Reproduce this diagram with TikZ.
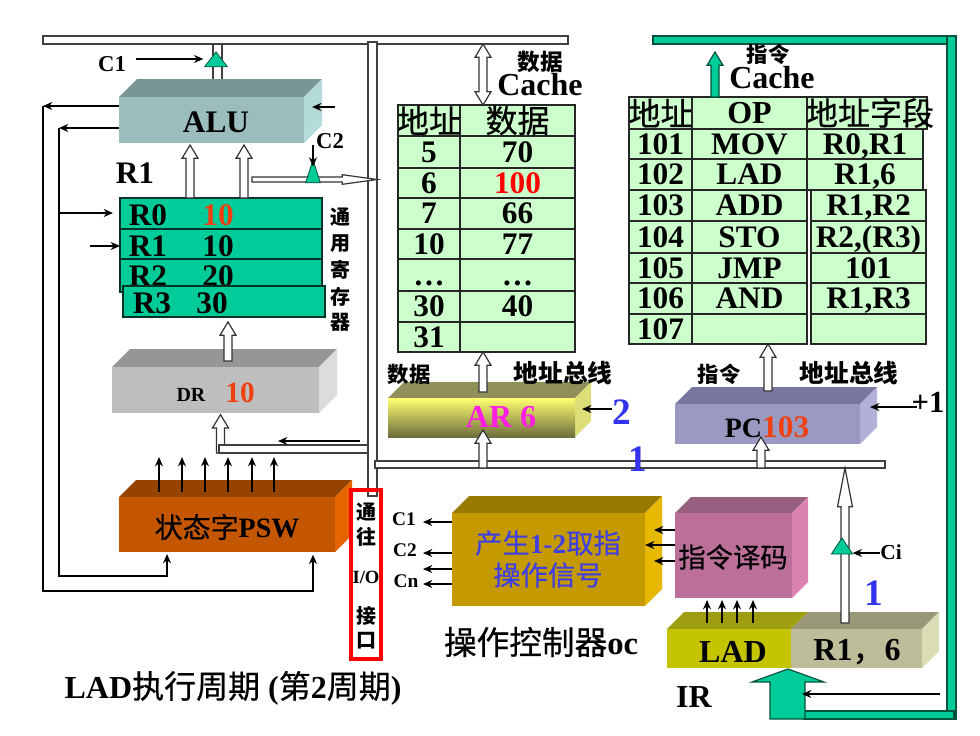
\documentclass[tikz,border=0pt]{standalone}
\usepackage{fontspec}
\setmainfont{Liberation Serif}
\newfontfamily\cjk{Noto Sans CJK SC}
\newfontfamily\cjkmid[FakeBold=0.5]{Noto Sans CJK SC}
\newcommand{\zh}[1]{{\cjkmid\mdseries #1}}
\newcommand{\zhb}[1]{{\cjk #1}}
\usetikzlibrary{arrows.meta, calc, fit, shapes.geometric}
\definecolor{regreen}{RGB}{0,204,153}
\definecolor{celgreen}{RGB}{204,255,204}
\definecolor{hotnum}{RGB}{240,64,16}
\definecolor{bluenum}{RGB}{51,51,238}
\definecolor{opblue}{RGB}{64,64,224}
\definecolor{arpink}{RGB}{255,30,225}
\definecolor{alufront}{RGB}{155,189,189}
\definecolor{alutop}{RGB}{122,149,149}
\definecolor{aluside}{RGB}{181,218,218}
\definecolor{drfront}{RGB}{190,190,190}
\definecolor{drtop}{RGB}{150,150,150}
\definecolor{drside}{RGB}{220,220,220}
\definecolor{pswfront}{RGB}{196,86,0}
\definecolor{pswtop}{RGB}{150,66,0}
\definecolor{pswside}{RGB}{228,100,0}
\definecolor{arfront}{RGB}{200,200,110}
\definecolor{artop}{RGB}{143,143,90}
\definecolor{arside}{RGB}{222,222,120}
\definecolor{pcfront}{RGB}{153,153,194}
\definecolor{pctop}{RGB}{119,119,160}
\definecolor{pcside}{RGB}{176,176,216}
\definecolor{decfront}{RGB}{188,112,153}
\definecolor{dectop}{RGB}{152,96,128}
\definecolor{decside}{RGB}{219,131,174}
\definecolor{opcfront}{RGB}{196,154,0}
\definecolor{opctop}{RGB}{153,122,0}
\definecolor{opcside}{RGB}{230,184,0}
\definecolor{ladfront}{RGB}{196,196,0}
\definecolor{ladtop}{RGB}{158,158,16}
\definecolor{ladside}{RGB}{196,196,0}
\definecolor{rsixfront}{RGB}{189,189,154}
\definecolor{rsixtop}{RGB}{153,153,122}
\definecolor{rsixside}{RGB}{220,220,180}
\def\arrshaft{3pt}
\def\arrhalf{6pt}
\def\arrhead{10pt}
\tikzset{
  wire/.style={line width=0.9pt, black},
  lbl/.style={font=\bfseries\fontsize{#1}{#1}\selectfont, inner sep=0pt, outer sep=0pt},
  celltext/.style={lbl=23.5, text height=15pt, text depth=0pt},
  cellbox/.style={draw=black!85, fill=celgreen, line width=0.8pt, inner sep=0pt, outer sep=0pt},
  regbox/.style={draw=black!75!regreen, fill=regreen, line width=0.9pt, inner sep=0pt, outer sep=0pt},
  busbar/.style={draw=black!75, fill=white, line width=0.9pt, inner sep=0pt, outer sep=0pt},
  greenbar/.style={draw=black!60!regreen, fill=regreen, line width=0.9pt, inner sep=0pt, outer sep=0pt},
  hollow/.style={draw=black!80, fill=white, line width=0.9pt},
  gatetri/.style={isosceles triangle, isosceles triangle stretches, shape border rotate=90,
    draw=black!60!regreen, fill=regreen, line width=0.6pt, inner sep=0pt, outer sep=0pt, anchor=apex},
  hs/.store in=\arrshaft,
  hw/.store in=\arrhalf,
  hl/.store in=\arrhead
}
% front face as a named node, top and side faces behind it
\newcommand{\prism}[8][]{%
  \fill[#8top] (#3,#4) -- ++(#7,-#7) -- (#5+#7,#4-#7) -- (#5,#4) -- cycle;
  \fill[#8side] (#5,#4) -- ++(#7,-#7) -- (#5+#7,#6-#7) -- (#5,#6) -- cycle;
  \node[fit={(#3,#4)(#5,#6)}, inner sep=0pt, outer sep=0pt, fill=#8front, #1] (#2) {};
}
\newcommand{\blockarrow}[3][]{%
  \begin{scope}[hollow, #1]
    \coordinate (arrS) at #2;
    \coordinate (arrE) at #3;
    \coordinate (arrB) at ($(arrE)!\arrhead!(arrS)$);
    \filldraw ($(arrS)!\arrshaft!90:(arrE)$) -- ($(arrB)!\arrshaft!-90:(arrS)$)
      -- ($(arrB)!\arrhalf!-90:(arrS)$) -- (arrE) -- ($(arrB)!\arrhalf!90:(arrS)$)
      -- ($(arrB)!\arrshaft!90:(arrS)$) -- ($(arrS)!\arrshaft!-90:(arrE)$) -- cycle;
  \end{scope}
}
\newcommand{\blockdouble}[2]{%
  \begin{scope}[hollow]
    \coordinate (arrS) at #1;
    \coordinate (arrE) at #2;
    \coordinate (arrB) at ($(arrE)!\arrhead!(arrS)$);
    \coordinate (arrC) at ($(arrS)!\arrhead!(arrE)$);
    \filldraw (arrS) -- ($(arrC)!\arrhalf!-90:(arrE)$) -- ($(arrC)!\arrshaft!-90:(arrE)$)
      -- ($(arrB)!\arrshaft!90:(arrS)$) -- ($(arrB)!\arrhalf!90:(arrS)$) -- (arrE)
      -- ($(arrB)!\arrhalf!-90:(arrS)$) -- ($(arrB)!\arrshaft!-90:(arrS)$)
      -- ($(arrC)!\arrshaft!90:(arrE)$) -- ($(arrC)!\arrhalf!90:(arrE)$) -- cycle;
  \end{scope}
}
\begin{document}
\begin{tikzpicture}[x=0.75pt, y=-0.75pt, >={Stealth[length=7pt,width=6pt]}]
    \useasboundingbox (0,0) rectangle (980,735);

    % Buses
    \node[busbar, fit={(43,36)(568,44)}] (databus) {};
    \node[busbar, fit={(368,42)(377,496)}] (sidebus) {};
    \node[busbar, fit={(375,461)(885,468)}] (addrbus) {};
    \node[greenbar, fit={(653,36)(956,44)}] (greentop) {};
    \node[greenbar, fit={(947,36)(956,719)}] (greenright) {};
    \node[greenbar, fit={(804,711)(954,719)}] (greenbottom) {};

    % ALU
    \node[busbar, fit={(213,44)(222,82)}] (alubar) {};
    \prism{alu}{119}{97}{304}{143}{18}{alu}
    \node[lbl=23.5] (alutext) at (216,122) {ALU};
    \node[gatetri, minimum width=17pt, minimum height=11pt] (cgateA) at (216,52) {};
    \node[lbl=17] (cA) at (112,64) {C1};
    \draw[wire, ->] ([xshift=7.5pt]cA.east |- 0,59) -- ([xshift=-1pt]cgateA.left corner |- 0,59);
    \coordinate (aluinR) at (335,107);
    \draw[wire, ->] (aluinR) -- (312,107);

    % Registers
    \node[regbox, fit={(120,198)(322,229)}] (rzero) {};
    \node[regbox, fit={(120,229)(322,259)}] (rone) {};
    \node[regbox, fit={(120,259)(322,292)}] (rtwo) {};
    \node[lbl=23.5] (rzeroA) at (148,215) {R0};
    \node[lbl=23.5, text=hotnum] (rzeroB) at (218,215) {10};
    \node[lbl=23.5] (roneA) at (148,246) {R1};
    \node[lbl=23.5] (roneB) at (218,246) {10};
    \node[lbl=23.5] (rtwoA) at (148,276) {R2};
    \node[lbl=23.5] (rtwoB) at (218,276) {20};
    \node[regbox, fit={(123,286)(325,317)}] (rthree) {};
    \node[lbl=23.5] (rthreeA) at (152,303) {R3};
    \node[lbl=23.5] (rthreeB) at (212,303) {30};
    \node[lbl=23.5] (regname) at (135,173) {R1};
    \foreach \ch/\y in {通/217, 用/244, 寄/270, 存/297, 器/322}
      \node[lbl=15] (gpr\y) at (340,\y) {\zhb{\ch}};
    \blockarrow{(190,0 |- rzero.north)}{([yshift=-1.5pt]190,0 |- alu.south)}
    \blockarrow{(244,0 |- rzero.north)}{([yshift=-1.5pt]244,0 |- alu.south)}

    % ALU to the side bus, with C2
    \blockarrow[hs=1.9pt, hw=3.6pt, hl=26pt]{(252,179.5)}{(sidebus.east |- 0,179.5)}
    \node[gatetri, minimum width=11pt, minimum height=17pt] (cgateB) at (313,160) {};
    \node[lbl=17] (cB) at (330,141) {C2};
    \draw[wire, ->] (313,145) -- ([yshift=-5pt]cgateB.apex);

    % DR
    \prism{dr}{112}{367}{319}{413}{18}{dr}
    \node[lbl=15] (drA) at (191,395) {DR};
    \node[lbl=22, text=hotnum] (drB) at (240,393) {10};
    \coordinate (drout) at (228,361);
    \blockarrow{(drout)}{([yshift=-3.7pt]228,0 |- rthree.south)}
    \blockarrow{(220.5,453)}{([yshift=-1.2pt]220.5,0 |- dr.south)}
    \node[busbar, fit={(219,445)(368,453)}] (drbar) {};
    \coordinate (drbarin) at (360,441);
    \draw[wire, ->] (drbarin) -- (278,441);

    % PSW
    \prism{psw}{119}{497}{335}{552}{17}{psw}
    \node[lbl=21] (pswtext) at (227,527) {\zh{状态字}PSW};
    \foreach \x in {159,182,205,228,252,274}
      \draw[wire, ->] ([yshift=3.7pt]\x,0 |- psw.north) -- ++(0,-35);

    % ALU outputs
    \coordinate (cornerA) at (43,106);
    \coordinate (cornerB) at (59,128);
    \draw[wire, ->] (alu.west |- cornerA) -- (cornerA);
    \draw[wire, ->] (alu.west |- cornerB) -- (cornerB);
    \draw[wire, ->] (cornerA) -- (43,591) -- (313,591) -- ([yshift=-2pt]313,0 |- psw.south);
    \draw[wire, ->] (cornerB) -- (59,576) -- (167,576) -- ([yshift=-1.5pt]167,0 |- psw.south);
    \draw[wire, ->] (59,213) -- (113,213);
    \draw[wire, ->] (90,246) -- (rone.west |- 0,246);

    % To the I/O interface
    \node[draw=red, line width=3pt, fit={(351,490)(381,659)}, inner sep=0pt, outer sep=0pt] (iobox) {};
    \node[lbl=15] (ioA) at (366,512) {\zhb{通}};
    \node[lbl=15] (ioB) at (366,537) {\zhb{往}};
    \node[lbl=14] (ioC) at (366,577) {I/O};
    \node[lbl=15] (ioD) at (366,616) {\zhb{接}};
    \node[lbl=15] (ioE) at (366,641) {\zhb{口}};
    \node[lbl=24] (title) at (233,688) {LAD\zh{执行周期} (\zh{第}2\zh{周期})};

    % Data cache
    \node[lbl=17] (dcacheA) at (540,62) {\zhb{数据}};
    \node[lbl=24] (dcacheB) at (540,85) {Cache};
    \foreach \k/\yt/\yb/\addr/\val in {1/136/168/5/70, 2/168/198/6/\textcolor{red}{100},
        3/198/229/7/66, 4/229/259/10/77, 5/259/291/…/…, 6/291/322/30/40, 7/322/352/31/{}}{
      \node[cellbox, fit={(398,\yt)(460,\yb)}] (da\k) {};
      \node[cellbox, fit={(460,\yt)(575,\yb)}] (dv\k) {};
      \node[celltext] (dat\k) at (da\k) {\addr};
      \node[celltext] (dvt\k) at (dv\k) {\val};
    }
    \node[cellbox, fit={(398,105)(460,136)}] (dah) {};
    \node[cellbox, fit={(460,105)(575,136)}] (dvh) {};
    \node[lbl=24] (dahtext) at (dah) {\zh{地址}};
    \node[lbl=24] (dvhtext) at (dvh) {\zh{数据}};
    \blockdouble{(483,0 |- databus.south)}{(483,0 |- dah.north)}

    % AR
    \prism[top color=white!10!yellow!62!white, bottom color=black!45!arfront]{ar}{388}{398}{575}{437}{16}{ar}
    \node[lbl=24, text=arpink] (artext) at (501,417) {AR 6};
    \node[lbl=16] (arA) at (409,374) {\zhb{数据}};
    \node[lbl=18.5] (arB) at (563,373) {\zhb{地址总线}};
    \blockarrow{(483,392)}{(483,0 |- da7.south)}
    \blockarrow{(483,0 |- addrbus.south)}{(483,430)}
    \coordinate (arin) at (612,409);
    \draw[wire, ->] (arin) -- (582,409);
    \node[lbl=28, text=bluenum] (numA) at (622,412) {2};
    \node[lbl=28, text=bluenum] (numB) at (638,459) {1};

    % Instruction cache
    \node[lbl=16] (icacheA) at (768,54) {\zhb{指令}};
    \node[lbl=24] (icacheB) at (772,78) {Cache};
    \foreach \k/\yt/\yb/\xl/\xr/\addr/\op/\fld in {1/129/159/807/923/101/MOV/{R0,R1}, 2/159/190/807/923/102/LAD/{R1,6},
        3/190/221/811/926/103/ADD/{R1,R2}, 4/221/253/811/926/104/STO/{R2,(R3)}, 5/253/283/811/926/105/JMP/101,
        6/283/314/811/926/106/AND/{R1,R3}, 7/314/344/811/926/107/{}/{}}{
      \node[cellbox, fit={(629,\yt)(692,\yb)}] (ia\k) {};
      \node[cellbox, fit={(692,\yt)(807,\yb)}] (io\k) {};
      \node[cellbox, fit={(\xl,\yt)(\xr,\yb)}] (if\k) {};
      \node[celltext] (iat\k) at (ia\k) {\addr};
      \node[celltext] (iot\k) at (io\k) {\op};
      \node[celltext] (ift\k) at (if\k) {\fld};
    }
    \node[cellbox, fit={(629,97)(692,129)}] (iah) {};
    \node[cellbox, fit={(692,97)(807,129)}] (ioh) {};
    \node[cellbox, fit={(807,97)(927,129)}] (ifh) {};
    \node[lbl=24] (iahtext) at (iah) {\zh{地址}};
    \node[lbl=24] (iohtext) at (ioh) {OP};
    \node[lbl=24] (ifhtext) at (870,113) {\zh{地址字段}};
    \blockarrow[fill=regreen, draw=black!60!regreen]{(715,0 |- iah.north)}{(715,52)}

    % PC
    \prism{pc}{675}{404}{860}{444}{17}{pc}
    \node[lbl=21] (pctext) at (767,427) {PC\textcolor{hotnum}{\fontsize{23.5}{24}\selectfont 103}};
    \node[lbl=16] (pcA) at (719,374) {\zhb{指令}};
    \node[lbl=18.5] (pcB) at (849,373) {\zhb{地址总线}};
    \blockarrow{(768,391)}{(768,0 |- ia7.south)}
    \blockarrow{(761,0 |- addrbus.south)}{(761,437)}
    \node[lbl=23] (pcinc) at (928,402) {+1};
    \draw[wire, ->] (917,407) -- (870,407);

    % Operation controller
    \prism{opc}{452}{513}{645}{606}{17}{opc}
    \node[lbl=20.5, text=opblue] (opcA) at (548,543) {\zh{产生}1-2\zh{取指}};
    \node[lbl=20.5, text=opblue] (opcB) at (548,575) {\zh{操作信号}};
    \node[lbl=24.5] (opcname) at (541,642) {\zh{操作控制器}oc};
    \node[lbl=14.5] (sigA) at (404,519) {C1};
    \node[lbl=14.5] (sigB) at (405,550) {C2};
    \node[lbl=14.5] (sigC) at (406,581) {Cn};
    \foreach \y in {522,553,569,584}
      \draw[wire, ->] (opc.west |- 0,\y) -- (423,\y);

    % Instruction decoder
    \prism{dec}{675}{513}{792}{598}{16}{dec}
    \node[lbl=20.5] (dectext) at (733,557) {\zh{指令译码}};
    \draw[wire, ->] (dec.west |- 0,530) -- (654,530);
    \draw[wire, ->] (dec.west |- 0,545) -- (645,545);
    \draw[wire, ->] (dec.west |- 0,561) -- (654,561);

    % IR
    \prism{irop}{667}{629}{791}{668}{17}{lad}
    \prism{irad}{791}{629}{922}{668}{17}{rsix}
    \node[lbl=24] (iropt) at (733,652) {LAD};
    \node[lbl=24] (iradt) at (857,652) {R1\zh{，}6};
    \node[lbl=24] (irname) at (694,697) {IR};
    \foreach \x in {707,722,737,753}
      \draw[wire, ->] (\x,623) -- ([yshift=-1.5pt]\x,0 |- dec.south);
    \blockarrow[hw=5.6pt, hl=29pt]{(845,623)}{(845,0 |- addrbus.south)}
    \node[gatetri, minimum width=16pt, minimum height=12pt] (cgateC) at (842,538) {};
    \node[lbl=16] (cC) at (891,552) {Ci};
    \draw[wire, ->] (880,553) -- (cgateC.right corner |- 0,553);
    \node[lbl=28, text=bluenum] (numC) at (874,593) {1};

    % Big arrow back into IR
    \draw[greenbar] (770,719) -- (770,682) -- (752,682) -- (788,669) -- (824,682) -- (805,682) -- (805,719) -- cycle;
    \coordinate (irin) at (940,694);
    \draw[wire, ->] (irin) -- (802,694);
\end{tikzpicture}
\end{document}
